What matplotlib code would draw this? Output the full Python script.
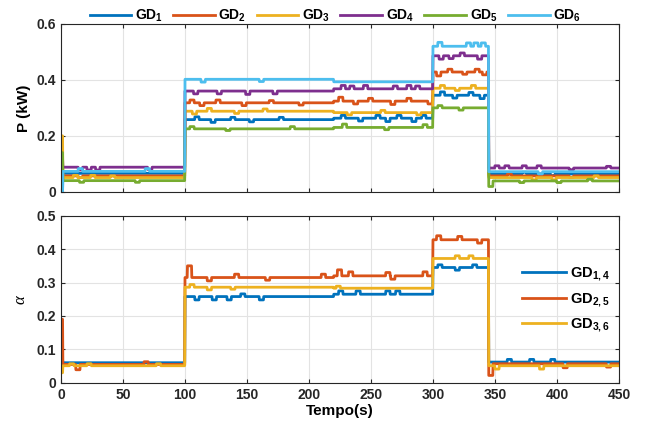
import numpy as np
import matplotlib
matplotlib.use("Agg")
import matplotlib.pyplot as plt

# -----------------------------
# Data
# -----------------------------
breaks = [0, 100, 220, 300, 345]          # start time of each step segment (s)
t_end = 450

# active power per generator, one level per segment (kW)
p_gd1 = [0.066, 0.258, 0.263, 0.345, 0.064]
p_gd2 = [0.057, 0.318, 0.324, 0.428, 0.057]
p_gd3 = [0.051, 0.288, 0.283, 0.370, 0.051]
p_gd4 = [0.088, 0.360, 0.368, 0.486, 0.085]
p_gd5 = [0.040, 0.225, 0.230, 0.300, 0.039]
p_gd6 = [0.073, 0.402, 0.393, 0.520, 0.072]
p_start = [0.00, 0.10, 0.20, 0.12, 0.14, 0.00]

# small blips seen on each trace: (time, offset)
p_blips1 = [(108, 0.01), (121, -0.01), (137, 0.008), (152, -0.008), (176, 0.008), (226, 0.01),
            (240, -0.01), (254, 0.01), (262, -0.012), (271, 0.01), (283, -0.012), (291, 0.01),
            (306, 0.012), (316, -0.01), (329, 0.01), (338, -0.012), (372, 0.006), (395, -0.006)]
p_blips2 = [(14, -0.006), (104, 0.01), (112, -0.01), (125, 0.01), (146, -0.01), (168, 0.008),
            (192, -0.008), (224, 0.014), (236, -0.01), (248, 0.01), (266, -0.012), (279, 0.01),
            (296, -0.01), (303, -0.014), (312, 0.01), (324, -0.008), (334, 0.01), (340, -0.01),
            (360, 0.006), (410, -0.005)]
p_blips3 = [(10, 0.008), (24, 0.008), (40, 0.006), (106, -0.01), (118, 0.01), (140, -0.008),
            (163, 0.008), (231, -0.008), (258, 0.008), (287, -0.008), (306, 0.01), (318, -0.008),
            (331, 0.01), (380, -0.008), (396, -0.008), (430, 0.006)]
p_blips4 = [(14, -0.01), (21, -0.01), (28, -0.01), (70, -0.008), (107, -0.01), (126, -0.01),
            (149, -0.012), (171, -0.01), (226, 0.012), (233, 0.01), (244, 0.012), (268, 0.01),
            (279, 0.012), (286, 0.01), (305, -0.012), (313, -0.01), (322, 0.01), (336, -0.012),
            (350, 0.008), (358, 0.008), (372, 0.008), (384, 0.008), (410, -0.006), (440, 0.006)]
p_blips5 = [(15, -0.006), (60, -0.006), (104, 0.008), (133, -0.006), (185, 0.008), (227, 0.012),
            (261, -0.008), (292, 0.01), (304, 0.008), (321, -0.008), (345, -0.02), (370, -0.006),
            (400, -0.006), (425, 0.006)]
p_blips6 = [(14, 0.01), (68, 0.01), (113, -0.01), (160, -0.008), (304, 0.014), (327, 0.012),
            (333, 0.012), (339, 0.012), (385, -0.008)]

# alpha (bottom panel): one level per segment
a_gd14 = [0.060, 0.258, 0.265, 0.345, 0.062]
a_gd25 = [0.055, 0.315, 0.320, 0.428, 0.057]
a_gd36 = [0.051, 0.286, 0.283, 0.372, 0.051]
a_start = [0.07, 0.19, 0.03]

a_blips14 = [(108, -0.01), (122, -0.01), (134, -0.01), (145, 0.008), (160, -0.01), (224, 0.01),
             (238, 0.01), (262, 0.01), (270, 0.01), (304, 0.008), (318, -0.008), (332, 0.008),
             (360, 0.008), (378, 0.008), (395, 0.008)]
a_blips25 = [(12, -0.016), (67, 0.008), (102, 0.035), (118, -0.01), (140, 0.01), (165, -0.008),
             (210, 0.01), (223, 0.018), (232, 0.012), (262, 0.01), (266, -0.01), (292, 0.012),
             (303, 0.012), (320, 0.01), (336, -0.01), (345, -0.035), (405, -0.012), (440, -0.01)]
a_blips36 = [(7, 0.006), (21, 0.006), (77, 0.006), (104, 0.008), (118, -0.008), (137, -0.006),
             (222, 0.006), (318, 0.008), (329, 0.008), (350, -0.01), (386, -0.01)]

blue, orange, yellow = "#0072BD", "#D95319", "#EDB120"
purple, green, cyan = "#7E2F8E", "#77AC30", "#4DBEEE"

# -----------------------------
# Helpers
# -----------------------------
t = np.arange(0, t_end + 0.25, 0.25)
seg = np.searchsorted(breaks, t, side="right") - 1


def trace(levels, start, blips, width=3.5):
    y = np.array(levels)[seg]
    y[t < 1.5] = start
    for bt, dv in blips:
        y[(t >= bt) & (t < bt + width)] += dv
    return y


plt.rcParams["font.family"] = ["Liberation Sans", "DejaVu Sans"]
plt.rcParams["font.weight"] = "bold"
plt.rcParams["axes.labelweight"] = "bold"
plt.rcParams["mathtext.fontset"] = "custom"
plt.rcParams["mathtext.bf"] = "Liberation Sans:bold"
plt.rcParams["mathtext.rm"] = "Liberation Sans:bold"


def style(ax):
    ax.set_xlim(0, 450)
    ax.set_xticks(np.arange(0, 451, 50))
    ax.grid(True, color="#e3e3e3", linewidth=0.8)
    ax.set_axisbelow(True)
    ax.tick_params(direction="in", top=True, right=True, labelsize=10,
                   colors="#262626", length=3)
    for s in ax.spines.values():
        s.set_color("#262626")
        s.set_linewidth(0.8)


fig = plt.figure(figsize=(6.45, 4.34), dpi=100)

# -----------------------------
# Top panel: P (kW)
# -----------------------------
ax1 = fig.add_axes([0.0946, 0.558, 0.865, 0.387])
top = [(p_gd1, p_blips1, blue), (p_gd2, p_blips2, orange), (p_gd3, p_blips3, yellow),
       (p_gd4, p_blips4, purple), (p_gd5, p_blips5, green), (p_gd6, p_blips6, cyan)]
for i, (lv, bl, c) in enumerate(top):
    ax1.plot(t, trace(lv, p_start[i], bl), color=c, linewidth=2.0,
             label="GD$_{\\mathbf{%d}}$" % (i + 1))
style(ax1)
ax1.set_ylim(0, 0.6)
ax1.set_yticks([0, 0.2, 0.4, 0.6])
ax1.set_yticklabels(["0", "0.2", "0.4", "0.6"])
ax1.set_xticklabels([])
ax1.set_ylabel("P (kW)", fontsize=11, labelpad=4)
ax1.legend(loc="center", bbox_to_anchor=(0.52, 0.964), bbox_transform=fig.transFigure,
           ncol=6, frameon=False, fontsize=10, handlelength=3.0, handletextpad=0.25,
           columnspacing=0.75, borderaxespad=0)

# -----------------------------
# Bottom panel: alpha
# -----------------------------
ax2 = fig.add_axes([0.0946, 0.118, 0.865, 0.385])
bottom = [(a_gd14, a_blips14, blue, "GD$_{\\mathbf{1,4}}$"),
          (a_gd25, a_blips25, orange, "GD$_{\\mathbf{2,5}}$"),
          (a_gd36, a_blips36, yellow, "GD$_{\\mathbf{3,6}}$")]
for i, (lv, bl, c, lab) in enumerate(bottom):
    ax2.plot(t, trace(lv, a_start[i], bl), color=c, linewidth=2.0, label=lab)
style(ax2)
ax2.set_ylim(0, 0.5)
ax2.set_yticks(np.arange(0, 0.51, 0.1))
ax2.set_yticklabels(["0", "0.1", "0.2", "0.3", "0.4", "0.5"])
ax2.set_xlabel("Tempo(s)", fontsize=11, labelpad=2)
ax2.set_ylabel("α", fontsize=12, fontstyle="italic", fontweight="normal",
               family="Liberation Serif", labelpad=6)
ax2.legend(loc="center left", bbox_to_anchor=(0.816, 0.495), frameon=False,
           fontsize=10.5, handlelength=3.0, handletextpad=0.3, labelspacing=0.55,
           borderaxespad=0)

fig.savefig("out.png", dpi=100)
